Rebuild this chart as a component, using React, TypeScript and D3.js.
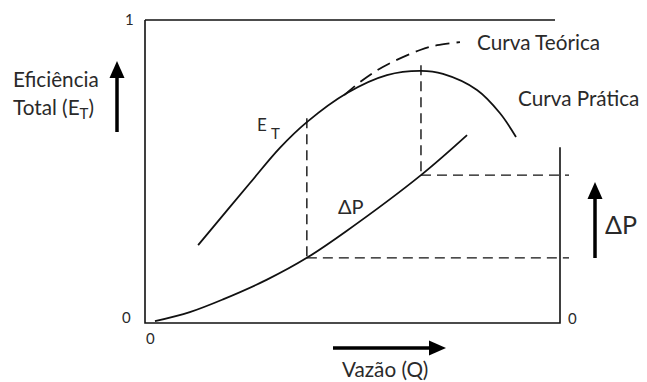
import React from "react";
import * as d3 from "d3";

// Normalised data (Q from 0..1, value from 0..1)
const practicalCurve: [number, number][] = [
  [0.128, 0.257], [0.253, 0.462], [0.325, 0.578], [0.39, 0.663], [0.487, 0.759],
  [0.583, 0.818], [0.665, 0.832], [0.718, 0.822], [0.8, 0.769], [0.855, 0.693], [0.894, 0.614],
];
const theoreticalCurve: [number, number][] = [
  [0.48, 0.752], [0.518, 0.795], [0.573, 0.845], [0.663, 0.901], [0.704, 0.917], [0.759, 0.927],
];
const pressureCurve: [number, number][] = [
  [0.024, 0.006], [0.108, 0.036], [0.188, 0.078], [0.294, 0.143], [0.39, 0.215],
  [0.484, 0.302], [0.665, 0.488], [0.776, 0.62],
];
// operating points: Q, efficiency top, pressure bottom
const opPoints = [
  { q: 0.39, top: 0.676, dp: 0.215 },
  { q: 0.665, top: 0.851, dp: 0.488 },
];
const tickLabels = { zero: "0", one: "1" };

const W = 647, H = 382;
const L = 145, R = 560, T = 20, B = 323;

export default function App() {
  const x = d3.scaleLinear().domain([0, 1]).range([L, R]);
  const y = d3.scaleLinear().domain([0, 1]).range([B, T]);
  const line = d3.line<[number, number]>().x(d => x(d[0])).y(d => y(d[1])).curve(d3.curveCatmullRom.alpha(0.5));
  const font = "Lato, 'Open Sans', sans-serif";
  const ink = "#111";
  const txt = "#2a2a2a";
  const dash = "10,6";
  return (
    <svg width={W} height={H} style={{ position: "absolute", left: 0, top: 0, background: "#fff" }}>
      {/* frame */}
      <path d={`M${L},${T}H${x(0.988)}`} stroke={ink} strokeWidth={1.6} fill="none" />
      <path d={`M${L},${T}V${B}H${R}V${y(0.58)}`} stroke={ink} strokeWidth={1.6} fill="none" />
      {/* dashed guides */}
      {opPoints.map((p, i) => (
        <g key={i}>
          <line x1={x(p.q)} x2={x(p.q)} y1={y(p.top)} y2={y(p.dp)} stroke={ink} strokeWidth={1.4} strokeDasharray={dash} />
          <line x1={x(p.q)} x2={R + 9} y1={y(p.dp)} y2={y(p.dp)} stroke={ink} strokeWidth={1.4} strokeDasharray={dash} />
        </g>
      ))}
      {/* curves */}
      <path d={line(practicalCurve) || ""} stroke={ink} strokeWidth={1.8} fill="none" />
      <path d={line(theoreticalCurve) || ""} stroke={ink} strokeWidth={1.8} fill="none" strokeDasharray="14,7" />
      <path d={line(pressureCurve) || ""} stroke={ink} strokeWidth={1.8} fill="none" />
      {/* arrows */}
      <line x1={117} x2={117} y1={132} y2={74} stroke="#000" strokeWidth={3.5} />
      <polygon points="117,61 109.5,78 124.5,78" fill="#000" />
      <line x1={595} x2={595} y1={258} y2={196} stroke="#000" strokeWidth={3.5} />
      <polygon points="595,182 587.5,199 602.5,199" fill="#000" />
      <line x1={333} x2={432} y1={348} y2={348} stroke="#000" strokeWidth={3.5} />
      <polygon points="446,348 429,340.5 429,355.5" fill="#000" />
      {/* texts */}
      <g fontFamily={font} fill={txt}>
        <text x={13} y={87} fontSize={20.7}>Eficiência</text>
        <text x={13} y={115} fontSize={20.7}>Total (E<tspan fontSize={15} dy={4}>T</tspan><tspan dy={-4}>)</tspan></text>
        <text x={477} y={50} fontSize={20.7}>Curva Teórica</text>
        <text x={518} y={106} fontSize={20.7}>Curva Prática</text>
        <text x={257} y={131} fontSize={17}>E</text>
        <text x={271} y={139} fontSize={15}>T</text>
        <text x={338} y={214} fontSize={20}>ΔP</text>
        <text x={605} y={234} fontSize={25}>ΔP</text>
        <text x={342} y={377} fontSize={20.7}>Vazão (Q)</text>
        <text x={125} y={25} fontSize={15}>{tickLabels.one}</text>
        <text x={122} y={323} fontSize={15}>{tickLabels.zero}</text>
        <text x={146} y={344} fontSize={15}>{tickLabels.zero}</text>
        <text x={568} y={324} fontSize={15}>{tickLabels.zero}</text>
      </g>
    </svg>
  );
}
